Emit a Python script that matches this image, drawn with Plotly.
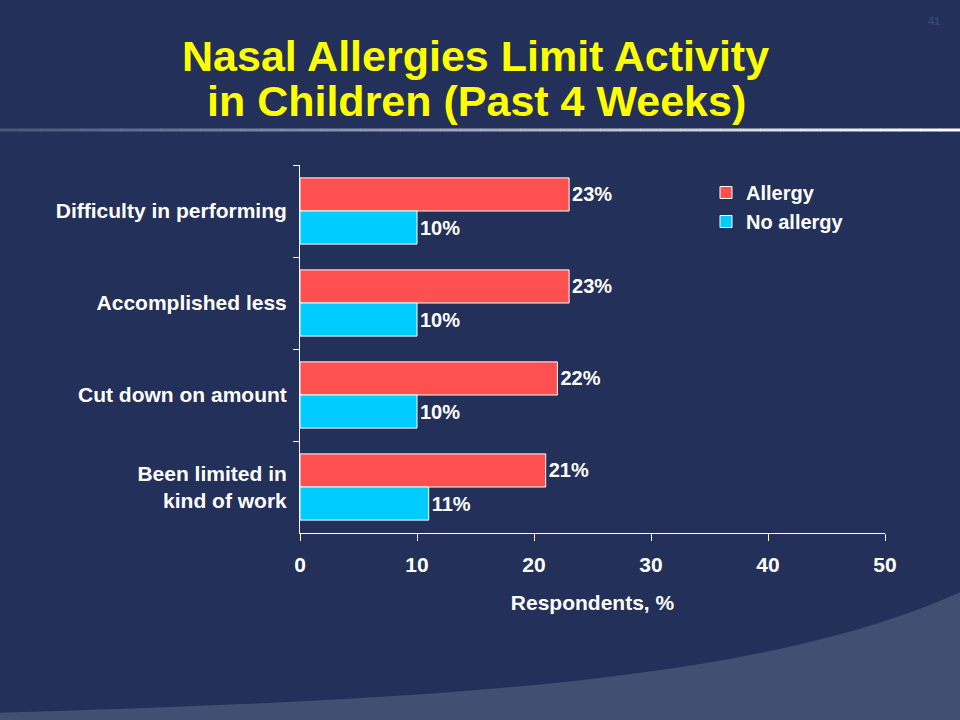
import plotly.graph_objects as go

categories = ["Difficulty in performing", "Accomplished less", "Cut down on amount", "Been limited in<br>kind of work"]
allergy = [23, 23, 22, 21]
no_allergy = [10, 10, 10, 11]
x_ticks = [0, 10, 20, 30, 40, 50]
title_lines = ["Nasal Allergies Limit Activity", "in Children (Past 4 Weeks)"]

BG = "#233059"
FONT = "Liberation Sans, Arial, sans-serif"
FS = 20

# plot-area pixel geometry
L, R, T, B = 300, 885, 165, 533
W, H = 960, 720


def px(x):
    return (x - L) / (R - L)


def py(y):
    return (B - y) / (B - T)


fig = go.Figure()
fig.add_trace(go.Bar(
    y=categories, x=allergy, orientation="h", name="Allergy",
    marker=dict(color="#FF5050", line=dict(color="white", width=1)),
    text=[f"{v}%" for v in allergy], textposition="outside",
    textfont=dict(color="white", size=FS, family=FONT, weight="bold"),
    cliponaxis=False,
))
fig.add_trace(go.Bar(
    y=categories, x=no_allergy, orientation="h", name="No allergy",
    marker=dict(color="#00CCFF", line=dict(color="white", width=1)),
    text=[f"{v}%" for v in no_allergy], textposition="outside",
    textfont=dict(color="white", size=FS, family=FONT, weight="bold"),
    cliponaxis=False,
))

shapes = []
# lower-right lighter swoosh
path = (f"M {px(-5)} {py(713)} "
        f"C {px(420)} {py(700)}, {px(760)} {py(685)}, {px(965)} {py(590)} "
        f"L {px(965)} {py(725)} L {px(-5)} {py(725)} Z")
shapes.append(dict(type="path", xref="paper", yref="paper", layer="below",
                   path=path, fillcolor="#434F72", line=dict(width=0)))
# gradient separator line under title
n = 48
for i in range(n):
    t = i / (n - 1)
    c0 = (0x4A, 0x58, 0x80)
    c1 = (0xFF, 0xFF, 0xFF)
    col = "rgb(%d,%d,%d)" % tuple(int(a + (b - a) * t) for a, b in zip(c0, c1))
    shapes.append(dict(
        type="rect", xref="paper", yref="paper",
        x0=px(W * i / n), x1=px(W * (i + 1) / n + 0.6),
        y0=py(131.5), y1=py(128.5),
        fillcolor=col, line=dict(width=0), layer="below",
    ))

annotations = [
    dict(text=title_lines[0], xref="paper", yref="paper", x=px(475), y=py(56),
         xanchor="center", yanchor="middle", showarrow=False,
         font=dict(family=FONT, color="#FFFF00", size=43, weight="bold")),
    dict(text=title_lines[1], xref="paper", yref="paper", x=px(476), y=py(101),
         xanchor="center", yanchor="middle", showarrow=False,
         font=dict(family=FONT, color="#FFFF00", size=43, weight="bold")),
    dict(text="41", xref="paper", yref="paper", x=px(942), y=py(13),
         showarrow=False, font=dict(size=11, color="#34467A", family=FONT, weight="bold")),
]

fig.update_layout(
    width=W, height=H,
    paper_bgcolor=BG, plot_bgcolor=BG,
    margin=dict(l=L, r=W - R, t=T, b=H - B),
    barmode="group", bargap=0.28, bargroupgap=0,
    font=dict(family=FONT, color="white", size=FS, weight="bold"),
    showlegend=True,
    legend=dict(
        x=px(706), y=py(173), xanchor="left", yanchor="top",
        bgcolor="rgba(0,0,0,0)", font=dict(size=FS, color="white", family=FONT, weight="bold"),
        itemwidth=30, tracegroupgap=2,
    ),
    xaxis=dict(
        range=[0, 50], tickvals=x_ticks, showgrid=False, zeroline=False,
        showline=True, linecolor="white", linewidth=1,
        ticks="outside", tickcolor="white", ticklen=7, ticklabelstandoff=6,
        tickfont=dict(size=21, color="white", family=FONT, weight="bold"),
        title=dict(text="Respondents, %", standoff=20,
                   font=dict(size=21, color="white", family=FONT, weight="bold")),
    ),
    yaxis=dict(
        autorange="reversed", showgrid=False, zeroline=False,
        showline=True, linecolor="white", linewidth=1,
        ticks="outside", tickcolor="white", ticklen=6, tickson="boundaries",
        tickfont=dict(size=21, color="white", family=FONT, weight="bold"),
        ticklabelstandoff=8,
    ),
    shapes=shapes,
    annotations=annotations,
)

fig.write_html("out.html", config={"displayModeBar": False},
               post_script="document.body.style.margin='0';")
